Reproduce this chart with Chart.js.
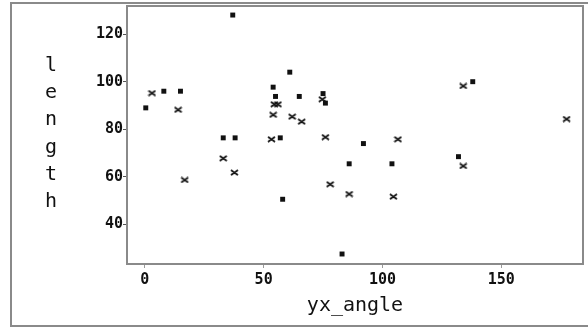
<!DOCTYPE html>
<html>
<head>
<meta charset="utf-8">
<style>
  html, body { margin: 0; padding: 0; background: #ffffff; }
  #wrap { width: 588px; height: 328px; }
</style>
<script src="https://cdn.jsdelivr.net/npm/chart.js@4/dist/chart.umd.min.js"></script>
</head>
<body>
<div id="wrap"><canvas id="chart" width="588" height="328"></canvas></div>
<script>
"use strict";

// group 1 (filled squares)
const squareAngle = [0.4, 8, 15, 37, 33, 38, 54, 55, 61, 65, 57, 75, 76, 58, 86, 92, 104, 83, 132, 138];
const squareLength = [89, 96, 96, 128, 76.4, 76.4, 97.7, 93.8, 104, 93.8, 76.4, 95, 91, 50.6, 65.5, 74, 65.5, 27.6, 68.5, 100];

// group 2 (x marks)
const crossAngle = [3, 14, 33, 54, 54.5, 56, 53.3, 62, 66, 74.7, 76, 106.5, 134, 177.5, 134, 16.8, 37.7, 78, 86, 104.6];
const crossLength = [95.2, 88.2, 67.8, 86.1, 90.5, 90.5, 75.8, 85.3, 83.2, 92.6, 76.7, 75.8, 98.2, 84.3, 64.6, 58.7, 61.8, 56.9, 52.8, 51.7];

const xTicks = [0, 50, 100, 150];
const yTicks = [40, 60, 80, 100, 120];

const xTitle = "yx_angle";
const yTitle = "length";

const frameColor = "#8a8a8a";
const inkColor = "#111111";

/** @type {(xs: number[], ys: number[]) => {x: number, y: number}[]} */
const toPoints = (xs, ys) => xs.map((x, i) => ({ x, y: ys[i] }));

const makeCrossMarker = () => {
  const c = document.createElement("canvas");
  c.width = 9;
  c.height = 7;
  const g = c.getContext("2d");
  g.strokeStyle = inkColor;
  g.lineWidth = 1.8;
  g.beginPath();
  g.moveTo(1, 1);
  g.lineTo(8, 6);
  g.moveTo(8, 1);
  g.lineTo(1, 6);
  g.moveTo(2.5, 3.5);
  g.lineTo(6.5, 3.5);
  g.stroke();
  return c;
};

/** @type {(scale: any) => void} */
const dropEdgePadding = (scale) => {
  scale.paddingTop = 0;
  scale.paddingBottom = 0;
  scale.paddingLeft = 0;
  scale.paddingRight = 0;
};

const framePlugin = {
  id: "frames",
  beforeDraw: (chart) => {
    const { ctx } = chart;
    ctx.save();
    ctx.fillStyle = "#ffffff";
    ctx.fillRect(0, 0, chart.width, chart.height);
    ctx.strokeStyle = frameColor;
    ctx.lineWidth = 2;
    ctx.strokeRect(11, 3, 590, 323);
    ctx.restore();
  },
  afterDatasetsDraw: (chart) => {
    const { ctx, chartArea } = chart;
    ctx.save();
    ctx.strokeStyle = frameColor;
    ctx.lineWidth = 2;
    ctx.strokeRect(chartArea.left, chartArea.top,
      chartArea.right - chartArea.left, chartArea.bottom - chartArea.top);

    // stacked vertical y title
    ctx.fillStyle = inkColor;
    ctx.font = "20px 'DejaVu Sans Mono'";
    ctx.textAlign = "center";
    ctx.textBaseline = "alphabetic";
    [...yTitle].forEach((ch, i) => {
      ctx.fillText(ch, 51, 71 + i * 27.2);
    });
    ctx.restore();
  },
};

const tickFont = { family: "'DejaVu Sans Mono'", size: 15, weight: "bold" };

const main = () => {
  const el = document.getElementById("chart");
  if (!(el instanceof HTMLCanvasElement)) throw new Error();

  new Chart(el, {
    type: "scatter",
    data: {
      datasets: [
        {
          data: toPoints(squareAngle, squareLength),
          pointStyle: "rect",
          pointRadius: 3.5,
          pointHoverRadius: 3.5,
          backgroundColor: inkColor,
          borderColor: inkColor,
          borderWidth: 0,
        },
        {
          data: toPoints(crossAngle, crossLength),
          pointStyle: makeCrossMarker(),
          pointRadius: 4,
          pointHoverRadius: 4,
          backgroundColor: inkColor,
          borderColor: inkColor,
        },
      ],
    },
    options: {
      responsive: false,
      animation: false,
      events: [],
      layout: { padding: { left: 0, top: 6, right: 3, bottom: 0 } },
      plugins: {
        legend: { display: false },
        tooltip: { enabled: false },
      },
      scales: {
        x: {
          type: "linear",
          min: -7.5,
          max: 184.4,
          afterBuildTicks: (scale) => {
            scale.ticks = xTicks.map((value) => ({ value }));
          },
          afterFit: (scale) => {
            scale.height = 64;
            dropEdgePadding(scale);
          },
          border: { display: false },
          grid: {
            drawOnChartArea: false,
            drawTicks: true,
            tickLength: 4,
            color: "#9a9a9a",
          },
          ticks: {
            color: inkColor,
            font: tickFont,
            padding: 3,
            maxRotation: 0,
          },
          title: {
            display: true,
            text: xTitle,
            color: inkColor,
            font: { family: "'DejaVu Sans Mono'", size: 20 },
            padding: { top: 0, bottom: 10 },
          },
        },
        y: {
          type: "linear",
          min: 23.4,
          max: 131.8,
          afterBuildTicks: (scale) => {
            scale.ticks = yTicks.map((value) => ({ value }));
          },
          afterFit: (scale) => {
            scale.width = 127;
            dropEdgePadding(scale);
          },
          border: { display: false },
          grid: {
            drawOnChartArea: false,
            drawTicks: true,
            tickLength: 4,
            color: "#555555",
          },
          ticks: {
            color: inkColor,
            font: tickFont,
            padding: 0,
          },
        },
      },
    },
    plugins: [framePlugin],
  });
};

main();
</script>
</body>
</html>
